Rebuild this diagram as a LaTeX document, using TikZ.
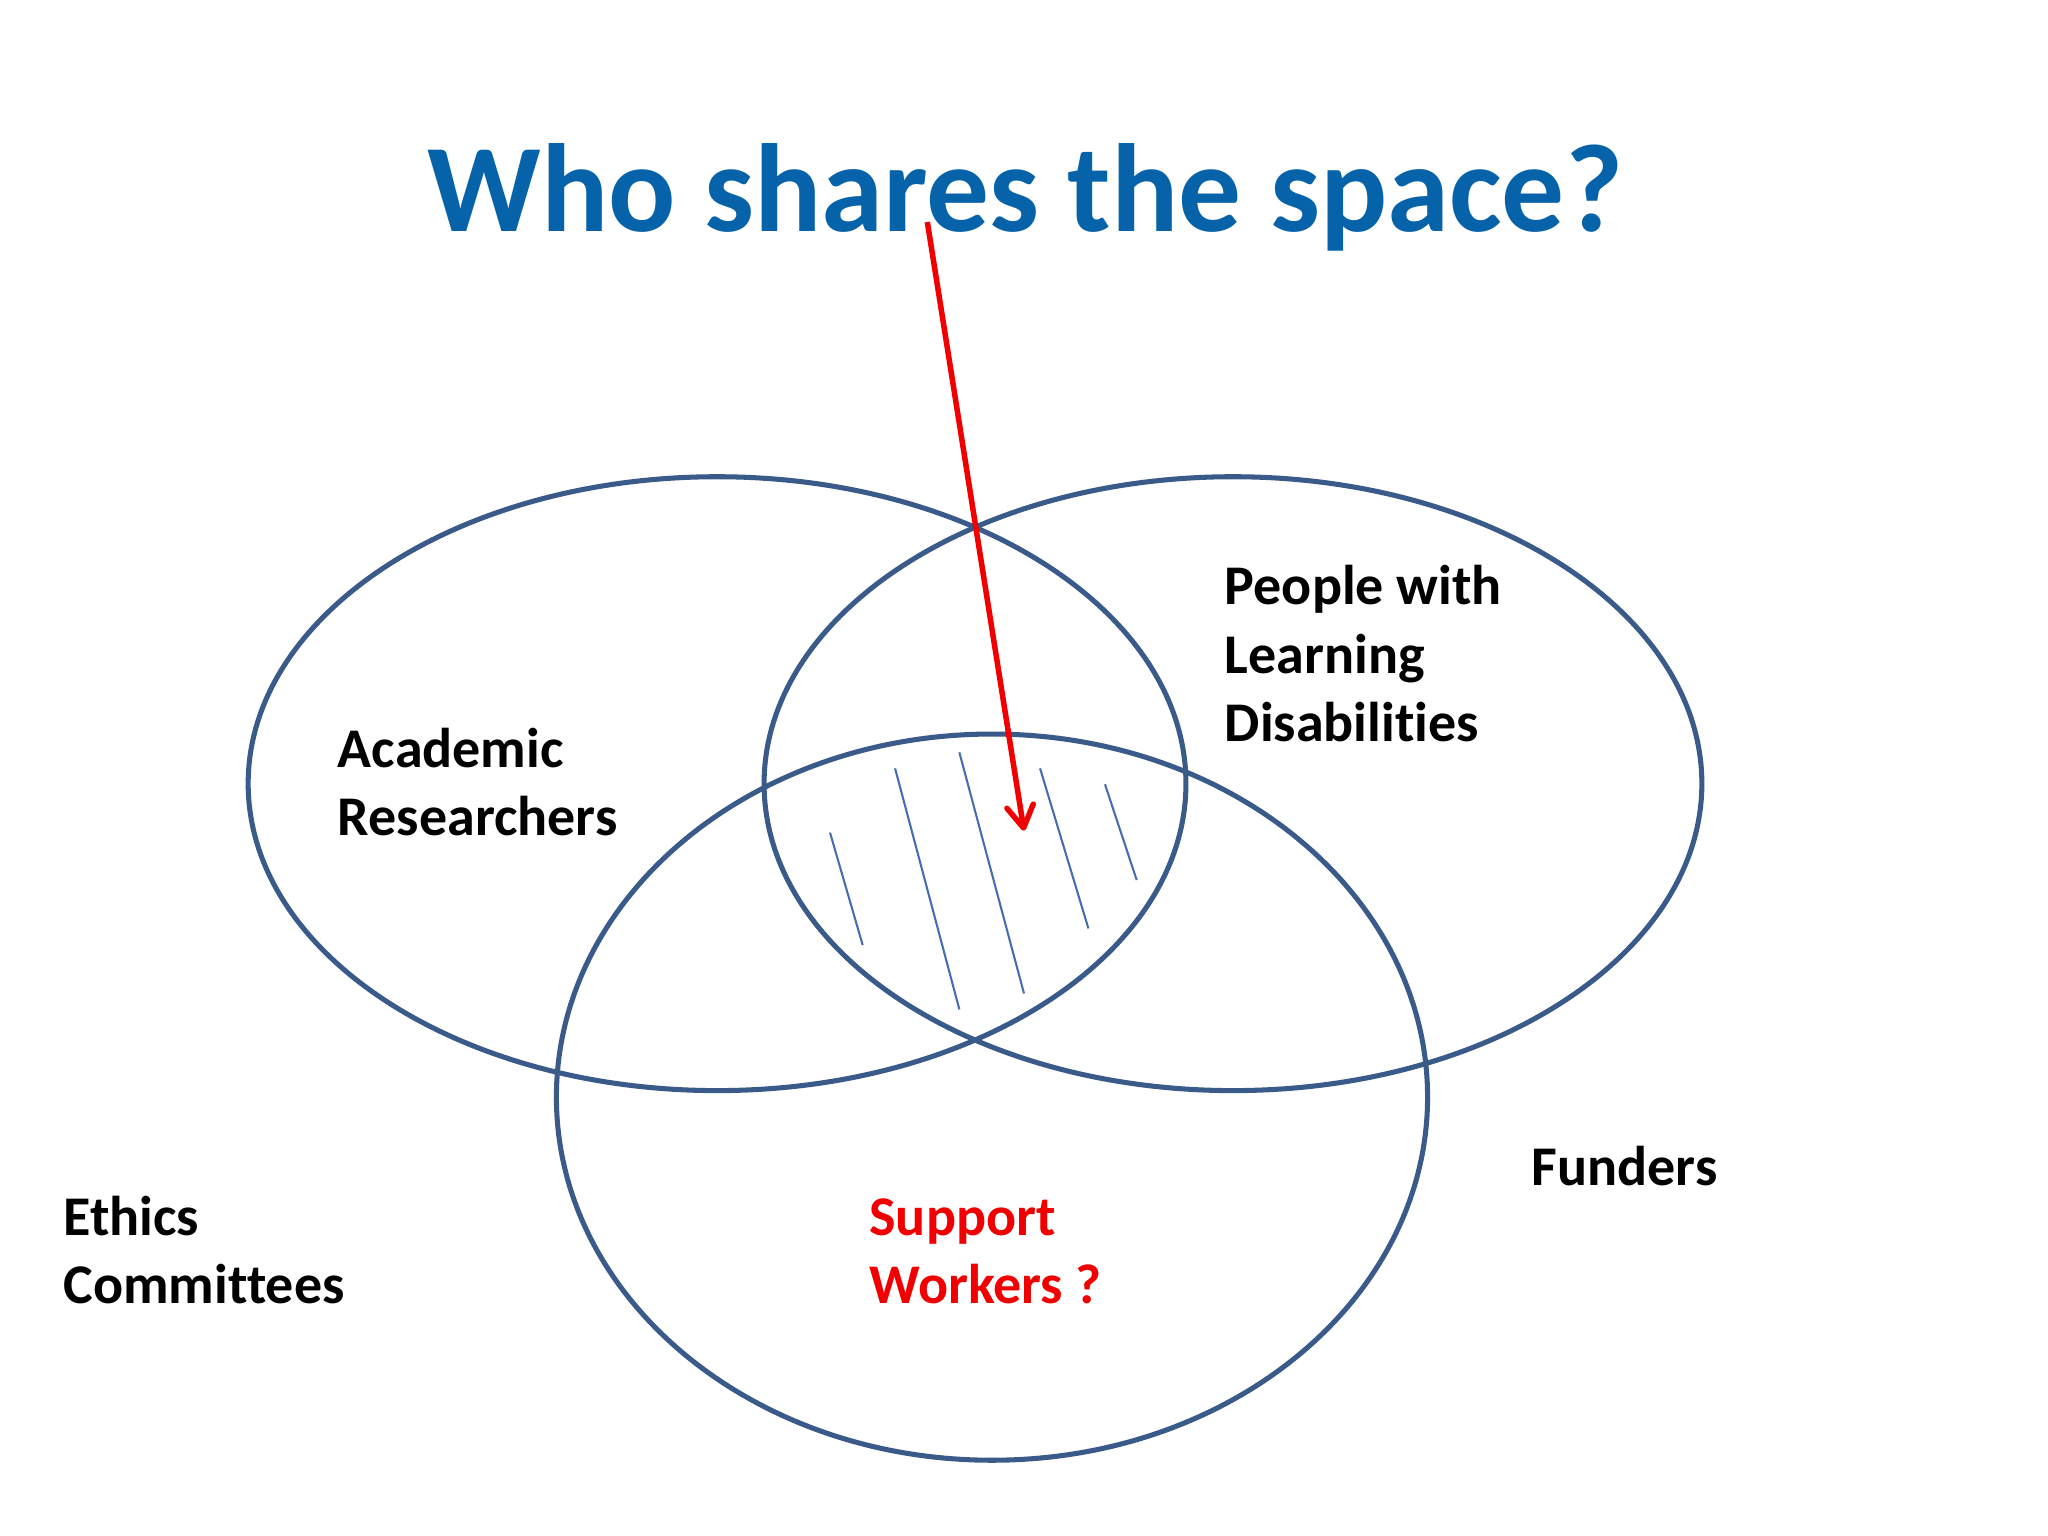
\documentclass[tikz,border=0pt]{standalone}
\usepackage{fontspec}
\setmainfont{Carlito}[Ligatures=NoCommon]
\usetikzlibrary{arrows.meta}
\definecolor{titleblue}{RGB}{6,99,170}
\definecolor{ringblue}{RGB}{58,90,138}
\definecolor{hatchblue}{RGB}{70,110,175}
\definecolor{redline}{RGB}{240,0,0}
\tikzset{
  ring/.style={draw=ringblue, line width=1.1pt},
  hatchline/.style={draw=hatchblue, line width=0.45pt},
  lbl/.style={anchor=base west, inner sep=0pt, align=left, font=\fontsize{12.2pt}{14.9pt}\selectfont\bfseries},
}
\begin{document}
\begin{tikzpicture}[x=0.01cm, y=-0.01cm]
\useasboundingbox[fill=white] (0,0) rectangle (1568,1176);
% ellipses
\draw[ring] (549,600) ellipse [x radius=359, y radius=235];
\draw[ring] (944,600) ellipse [x radius=359, y radius=235];
\draw[ring] (759.5,840) ellipse [x radius=333.5, y radius=278];
% hatch lines
\draw[hatchline] (635.5,637.5) -- (660.5,723.6);
\draw[hatchline] (685.3,588.3) -- (734.5,772.8);
\draw[hatchline] (734.5,576) -- (784,760.6);
\draw[hatchline] (796.3,588.3) -- (833.3,710.8);
\draw[hatchline] (846,600.5) -- (870.3,673.8);
% title
\node[anchor=base, inner sep=0pt, text=titleblue, font=\fontsize{27.3pt}{32pt}\selectfont\bfseries] (title) at (785,177) {Who shares the space?};
% labels (base = baseline of last line)
\node[lbl] (acad) at (258,640) {Academic\\Researchers};
\node[lbl] (pld) at (937,568) {People with\\Learning\\Disabilities};
\node[lbl, text=redline] (sup) at (665,998) {Support\\Workers ?};
\node[lbl] (eth) at (48,998) {Ethics\\Committees};
\node[lbl] (fund) at (1172,908) {Funders};
% arrow
\coordinate (astart) at (710,170);
\coordinate (aend) at (784,636);
\draw[redline, line width=1.2pt, -{Straight Barb[length=4.8pt, width=5.8pt, line width=1.2pt, round]}] (astart) -- (aend);
\end{tikzpicture}
\end{document}
